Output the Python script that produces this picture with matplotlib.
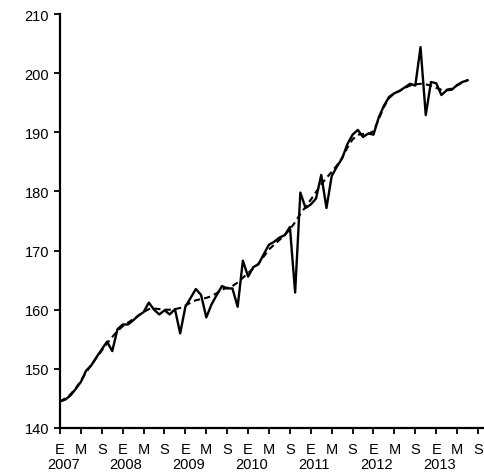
import matplotlib
matplotlib.use("Agg")
import matplotlib.pyplot as plt

# months since January 2007
months = list(range(79))
index_values = [
    144.5, 144.8, 145.5, 146.6, 147.8, 149.7, 150.6, 152.0, 153.3, 154.6,
    153.0, 156.7, 157.5, 157.5, 158.2, 159.0, 159.6, 161.2, 160.0, 159.2,
    159.9, 159.2, 160.1, 156.0, 160.5, 162.0, 163.5, 162.5, 158.7, 160.9,
    162.5, 164.0, 163.6, 163.6, 160.5, 168.3, 165.6, 167.2, 167.7, 169.4,
    171.0, 171.5, 172.2, 172.6, 174.0, 162.9, 179.8, 177.2, 177.8, 178.8,
    182.8, 177.2, 182.6, 184.2, 185.6, 188.0, 189.6, 190.4, 189.2, 189.8,
    189.6, 192.5, 194.5, 196.0, 196.6, 197.0, 197.6, 198.2, 197.9, 204.4,
    192.9, 198.5, 198.3, 196.3, 197.1, 197.2, 198.0, 198.5, 198.8,
]
trend_values = [
    144.5, 145.0, 145.7, 146.7, 148.0, 149.4, 150.7, 151.9, 153.1, 154.3,
    155.4, 156.4, 157.2, 157.8, 158.4, 159.0, 159.6, 160.1, 160.2, 160.1,
    160.0, 160.0, 160.1, 160.3, 160.7, 161.2, 161.6, 161.8, 162.0, 162.3,
    162.8, 163.4, 163.7, 164.0, 164.6, 165.4, 166.2, 167.0, 167.8, 169.0,
    170.2, 171.0, 171.8, 172.6, 173.6, 174.8, 176.2, 177.4, 178.6, 179.9,
    181.2, 182.3, 183.3, 184.4, 185.7, 187.4, 188.8, 189.6, 189.7, 189.7,
    190.2, 192.2, 194.3, 195.8, 196.6, 197.0, 197.5, 197.9, 198.1, 198.2,
    198.1, 197.9, 197.5, 197.2, 197.2, 197.4, 197.9, 198.4, 198.8,
]
tick_months = list(range(0, 81, 4))
season_letters = ["E", "M", "S"]
years = ["2007", "2008", "2009", "2010", "2011", "2012", "2013"]
year_months = [0, 12, 24, 36, 48, 60, 72]
y_ticks = [140, 150, 160, 170, 180, 190, 200, 210]

plt.rcParams['font.family'] = ['Liberation Sans', 'DejaVu Sans']

fig = plt.figure(figsize=(4.85, 4.77), dpi=100)
W, H = 485, 477
left_px, right_px, top_px, bottom_px = 60, 484, 15, 429
ax = fig.add_axes([left_px / W, 1 - bottom_px / H,
                   (right_px - left_px) / W, (bottom_px - top_px) / H])

ax.plot(months, trend_values, color='black', lw=1.5, ls=(0, (3, 2)))
ax.plot(months, index_values, color='black', lw=1.7)

ax.set_ylim(140, 210)
ax.set_xlim(0, (right_px - left_px) / 5.225)
ax.set_yticks(y_ticks)
ax.set_yticklabels([str(v) for v in y_ticks], fontsize=10.5)

ax.set_xticks(tick_months)
ax.set_xticklabels([season_letters[i % 3] for i in range(len(tick_months))],
                   fontsize=10.5)

axes_h = bottom_px - top_px
for ym, yr in zip(year_months, years):
    ax.text(ym + 0.6, -36 / axes_h, yr, transform=ax.get_xaxis_transform(),
            ha='center', va='center', fontsize=10.5)

for s in ['top', 'right']:
    ax.spines[s].set_visible(False)
for s in ['left', 'bottom']:
    ax.spines[s].set_linewidth(1.6)
ax.tick_params(axis='both', direction='out', length=4, width=1.3, colors='black')
ax.tick_params(axis='x', pad=6)
ax.tick_params(axis='y', pad=4)

fig.savefig("out.png", dpi=100)
